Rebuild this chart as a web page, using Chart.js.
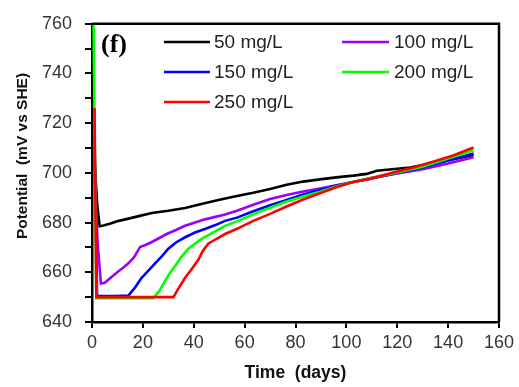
<!DOCTYPE html>
<html>
<head>
<meta charset="utf-8">
<script src="https://cdn.jsdelivr.net/npm/chart.js@4/dist/chart.umd.min.js"></script>
<style>
html,body{margin:0;padding:0;background:#fff;}
#wrap{width:519px;height:387px;}
</style>
</head>
<body>
<div id="wrap"><canvas id="c" width="519" height="387"></canvas></div>
<script>
// ---- data ----
const seriesLabels = ['50 mg/L', '100 mg/L', '150 mg/L', '200 mg/L', '250 mg/L'];
const seriesColors = ['#000000', '#9B00FF', '#0000FF', '#00FF00', '#FF0000'];

const days50 = [1, 2, 3, 4.5, 7, 10.5, 14, 18, 23.5, 30, 36.6, 43, 49.7, 56, 63.4, 70, 76.5, 83, 89.6, 96, 102.7, 108, 112, 118, 125, 128, 135, 142, 150];
const mv50   = [705, 688, 678.5, 678.8, 679.5, 680.7, 681.5, 682.5, 683.9, 684.8, 685.9, 687.5, 689.1, 690.5, 692.0, 693.5, 695.2, 696.5, 697.4, 698.2, 698.9, 699.6, 700.9, 701.5, 702.2, 702.8, 704, 705.5, 707.2];

const days100 = [1, 2.2, 3.5, 5, 7, 10.4, 12.5, 14.3, 16.5, 18.9, 21, 23.5, 26.5, 29.4, 33, 36.6, 40.5, 44.4, 48.5, 52.3, 57, 63.4, 70, 76.5, 83, 89.6, 96, 102.7, 110, 120, 130, 140, 150];
const mv100   = [700, 672, 655.5, 655.8, 657.5, 660.4, 662, 663.6, 666, 670.2, 671, 672.2, 673.8, 675.4, 677, 678.7, 680, 681.3, 682.3, 683.3, 684.8, 687.2, 689.5, 691.1, 692.5, 693.7, 695, 696.3, 698, 699.8, 701.5, 703.8, 706.3];

const days150 = [1, 2, 9, 14.3, 17, 19.5, 22, 24.8, 27.5, 30, 33, 36.6, 40.5, 44.4, 48.5, 52.3, 57, 63.4, 70, 76.5, 83, 89.6, 96, 102.7, 110, 120, 130, 140, 150];
const mv150   = [715, 650.4, 650.4, 650.6, 654, 657.8, 660.5, 663.6, 666.5, 669.5, 672, 674.1, 676, 677.4, 679, 680.7, 682, 684.6, 687, 689.1, 691.3, 693.1, 694.8, 696.3, 697.8, 700, 702.2, 705, 707.8];

const days200 = [0.5, 1.7, 24.1, 26.5, 28.7, 30.5, 32.6, 35, 37.9, 40.5, 43.1, 47.5, 52.3, 57, 63.4, 70, 76.5, 83, 89.6, 96, 102.7, 110, 120, 130, 140, 150];
const mv200   = [770, 649.6, 649.6, 652.5, 656.5, 659.5, 662.4, 666, 669.5, 671.5, 673.5, 676, 678.7, 680.5, 683.3, 686, 688.5, 690.5, 692.4, 694.5, 696.3, 698, 700.2, 702.5, 705.8, 709.1];

const days250 = [1, 1.7, 32, 34, 36.6, 39, 41.8, 43.5, 45.7, 49, 52.3, 57, 63.4, 70, 76.5, 83, 89.6, 96, 102.7, 109.3, 118.4, 125, 135, 142, 150];
const mv250   = [726, 650, 650, 653.5, 657.8, 661, 665, 668.5, 671.5, 673.5, 675.4, 677.5, 680.7, 683.5, 686.5, 689.3, 691.8, 694.2, 696.3, 697.6, 700.2, 701.8, 704.8, 707, 710.2];

const xTitle = 'Time  (days)';
const yTitle = 'Potential  (mV vs SHE)';
const panelLabel = '(f)';

const allDays = [days50, days100, days150, days200, days250];
const allMv = [mv50, mv100, mv150, mv200, mv250];

const FONT = "'Liberation Sans', Arial, sans-serif";

const datasets = seriesLabels.map((lab, i) => ({
  label: lab,
  data: allDays[i].map((d, j) => ({x: d, y: allMv[i][j]})),
  borderColor: seriesColors[i],
  backgroundColor: seriesColors[i],
  borderWidth: 2.6,
  pointRadius: 0,
  tension: 0,
  fill: false,
  order: 4 - i
}));

const decor = {
  id: 'decor',
  afterDraw(chart) {
    const ctx = chart.ctx;
    const a = chart.chartArea;
    ctx.save();
    // frame
    ctx.strokeStyle = '#000';
    ctx.lineWidth = 2.5;
    ctx.beginPath();
    ctx.moveTo(a.left, a.top);
    ctx.lineTo(a.right, a.top);
    ctx.lineTo(a.right, a.bottom);
    ctx.stroke();
    // panel label
    ctx.fillStyle = '#000';
    ctx.font = "bold 26px 'Liberation Serif', 'Times New Roman', serif";
    ctx.textAlign = 'left';
    ctx.textBaseline = 'middle';
    ctx.fillText(panelLabel, 101, 45);
    // legend
    const colLine = [[164, 210], [342, 389]];
    const colText = [214, 394];
    const rowY = [42, 72, 102];
    ctx.font = '19px ' + FONT;
    chart.data.datasets.forEach((ds, i) => {
      const c = i % 2, r = Math.floor(i / 2);
      ctx.strokeStyle = ds.borderColor;
      ctx.lineWidth = 2.5;
      ctx.beginPath();
      ctx.moveTo(colLine[c][0], rowY[r]);
      ctx.lineTo(colLine[c][1], rowY[r]);
      ctx.stroke();
      ctx.fillStyle = '#222';
      ctx.textBaseline = 'middle';
      ctx.fillText(ds.label, colText[c], rowY[r] + 1);
    });
    // y title
    ctx.translate(23, 156);
    ctx.rotate(-Math.PI / 2);
    ctx.font = 'bold 15.5px ' + FONT;
    ctx.textAlign = 'center';
    ctx.fillStyle = '#111';
    ctx.fillText(yTitle, 0, 0);
    ctx.restore();
  }
};

new Chart(document.getElementById('c'), {
  type: 'line',
  data: {datasets},
  options: {
    responsive: false,
    animation: false,
    devicePixelRatio: 1,
    layout: {padding: {left: 0, top: 16, right: 20, bottom: 0}},
    plugins: {legend: {display: false}, tooltip: {enabled: false}},
    scales: {
      x: {
        type: 'linear', min: 0, max: 160,
        ticks: {stepSize: 20, color: '#333', font: {family: FONT, size: 18}, padding: 4, maxRotation: 0},
        grid: {drawOnChartArea: false, drawTicks: true, tickLength: 6, color: '#000', lineWidth: 2},
        border: {display: true, color: '#000', width: 2.5},
        title: {display: true, text: xTitle, color: '#111', font: {family: FONT, size: 17.5, weight: 'bold'}, padding: {top: 0, bottom: 3}},
        afterFit(s) { s.height = 65; }
      },
      y: {
        type: 'linear', min: 640, max: 760,
        ticks: {stepSize: 10, color: '#333', font: {family: FONT, size: 18}, padding: 13,
          callback: v => (v % 20 === 0 ? String(v) : '')},
        grid: {drawOnChartArea: false, drawTicks: true, tickLength: 7, color: '#000', lineWidth: 2},
        border: {display: true, color: '#000', width: 2.5},
        afterFit(s) { s.width = 92; }
      }
    }
  },
  plugins: [decor]
});
</script>
</body>
</html>
